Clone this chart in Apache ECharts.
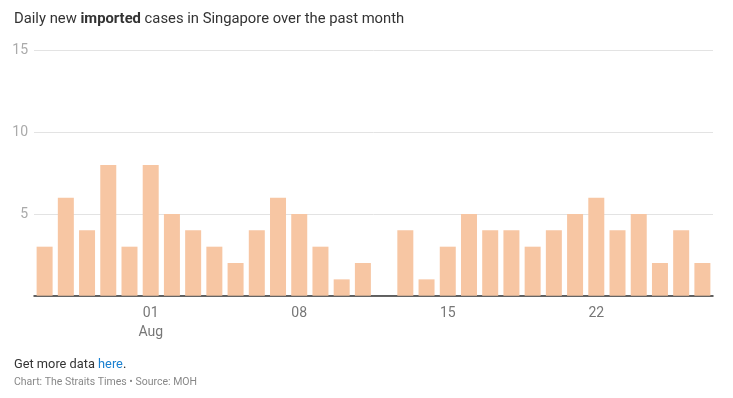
<!DOCTYPE html>
<html>
<head>
<meta charset="utf-8">
<script src="https://cdn.jsdelivr.net/npm/echarts@6/dist/echarts.min.js"></script>
<style>html,body{margin:0;padding:0;background:#fff}#c{width:733px;height:398px}</style>
</head>
<body>
<div id="c"></div>
<script>
const categories = ['Jul 27','Jul 28','Jul 29','Jul 30','Jul 31','Aug 01','Aug 02','Aug 03','Aug 04','Aug 05','Aug 06','Aug 07','Aug 08','Aug 09','Aug 10','Aug 11','Aug 12','Aug 13','Aug 14','Aug 15','Aug 16','Aug 17','Aug 18','Aug 19','Aug 20','Aug 21','Aug 22','Aug 23','Aug 24','Aug 25','Aug 26','Aug 27'];
const importedCases = [3,6,4,8,3,8,5,4,3,2,4,6,5,3,1,2,0,4,1,3,5,4,4,3,4,5,6,4,5,2,4,2];
const xTickLabels = {'Aug 01':'01\nAug','Aug 08':'08','Aug 15':'15','Aug 22':'22'};
const yTicks = [0,5,10,15];
const yTickLabels = {0:'',5:'5',10:'10',15:'15'};

const chart = echarts.init(document.getElementById('c'));
const F = 'Roboto, "Noto Sans", sans-serif';
chart.setOption({
  animation:false,
  textStyle:{fontFamily:F},
  title:[
    {left:14,top:12,padding:0,text:'Daily new {b|imported} cases in Singapore over the past month',
     textStyle:{fontFamily:F,fontSize:14.8,fontWeight:'normal',color:'#333',
       rich:{b:{fontFamily:F,fontSize:14.8,fontWeight:'bold',color:'#333'}}}},
    {left:14,top:358,padding:0,text:'Get more data {l|here}.',
     textStyle:{fontFamily:F,fontSize:12.8,fontWeight:'normal',color:'#333',
       rich:{l:{fontFamily:F,fontSize:12.8,color:'#1a80d0'}}}},
    {left:14,top:377,padding:0,text:'Chart: The Straits Times • Source: MOH',
     textStyle:{fontFamily:F,fontSize:10.5,fontWeight:'normal',color:'#888'}}
  ],
  grid:{left:34,right:20,top:50.6,bottom:102.3,containLabel:false},
  xAxis:{type:'category',data:categories,
    axisLine:{lineStyle:{color:'#333',width:1.5}},
    axisTick:{show:false},
    axisLabel:{interval:0,margin:8,color:'#777',fontSize:14,fontFamily:F,lineHeight:19,
      formatter:(v)=>xTickLabels[v]||''}},
  yAxis:{type:'value',min:yTicks[0],max:yTicks[yTicks.length-1],interval:5,
    axisLine:{show:false},axisTick:{show:false},
    splitLine:{lineStyle:{color:'#e3e3e3',width:1}},
    axisLabel:{margin:6,color:'#aaa',fontSize:14,fontFamily:F,verticalAlign:'middle',
      formatter:(v)=>yTickLabels[v]}},
  series:[{type:'bar',data:importedCases,barWidth:16,itemStyle:{color:'#f7c6a3'}}]
});
</script>
</body>
</html>
